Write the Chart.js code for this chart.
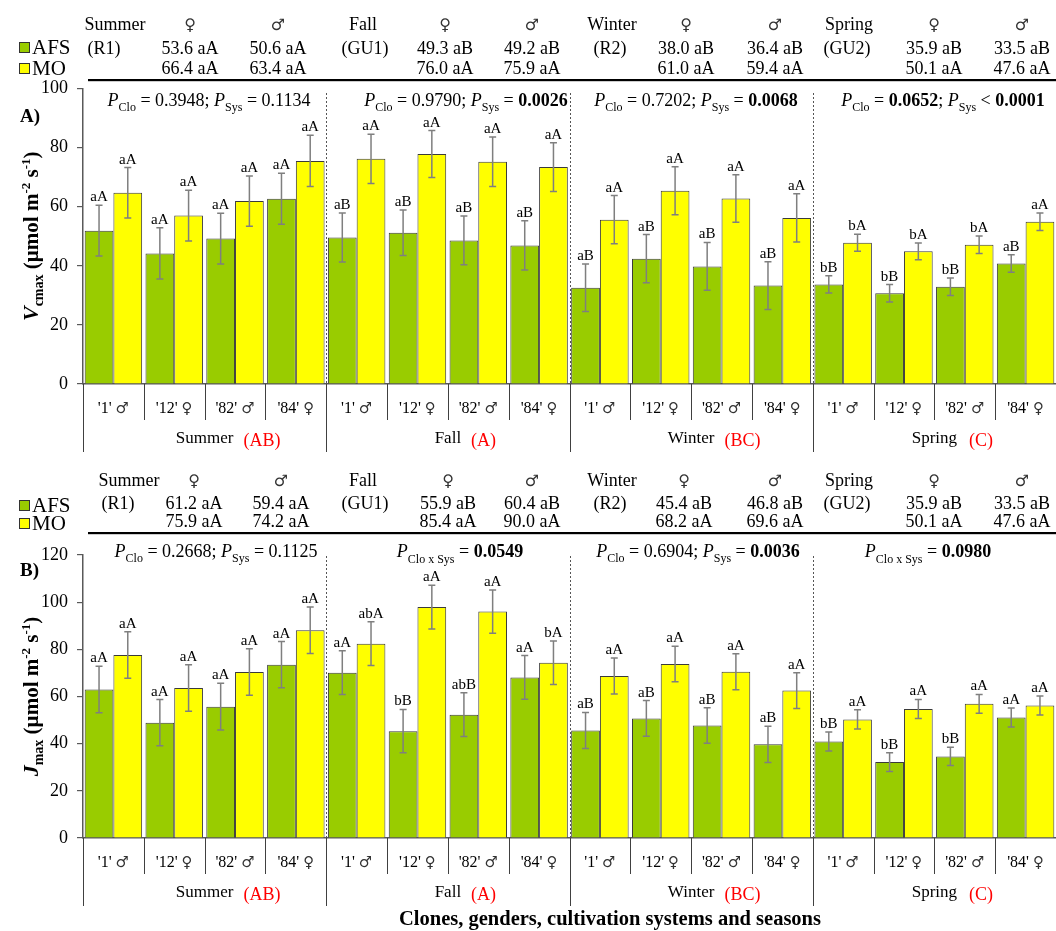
<!DOCTYPE html>
<html><head><meta charset="utf-8">
<script src="https://cdn.jsdelivr.net/npm/chart.js@4.4.1/dist/chart.umd.min.js"></script>
<style>
html,body{margin:0;padding:0;background:#fff;}
#wrap{position:relative;width:1056px;height:931px;overflow:hidden;}
canvas{position:absolute;left:0;}
</style></head><body>
<div id="wrap">
<canvas id="cA" width="1056" height="460" style="top:0;width:1056px;height:460px"></canvas>
<canvas id="cB" width="1056" height="471" style="top:460px;width:1056px;height:471px"></canvas>
</div>
<script>
// ---------------- DATA ----------------
const categories = ["'1' ♂","'12' ♀","'82' ♂","'84' ♀","'1' ♂","'12' ♀","'82' ♂","'84' ♀","'1' ♂","'12' ♀","'82' ♂","'84' ♀","'1' ♂","'12' ♀","'82' ♂","'84' ♀"];
const seasonNames = ['Summer','Fall','Winter','Spring'];
const seasonCodes = ['(R1)','(GU1)','(R2)','(GU2)'];
const seasonTukey = ['(AB)','(A)','(BC)','(C)'];

// Panel A: Vcmax
const vcmaxAFS = [51.9,44.2,49.2,62.7, 49.6,51.2,48.6,46.9, 32.6,42.4,39.8,33.3, 33.7,30.7,32.9,40.8];
const vcmaxMO  = [64.7,57.0,61.9,75.5, 76.2,77.8,75.2,73.4, 55.6,65.4,62.8,56.2, 47.8,44.9,47.1,54.9];
const vcmaxAFSerr = [8.6,8.65,8.55,8.65, 8.3,7.7,8.25,8.35, 8.05,8.15,8.1,8.05, 2.9,2.95,2.95,2.95];
const vcmaxMOerr  = [8.55,8.6,8.5,8.65, 8.35,7.95,8.4,8.25, 8.15,8.1,8.05,8.15, 2.85,2.85,2.95,2.95];
const vcmaxAFSletters = ['aA','aA','aA','aA','aB','aB','aB','aB','aB','aB','aB','aB','bB','bB','bB','aB'];
const vcmaxMOletters  = ['aA','aA','aA','aA','aA','aA','aA','aA','aA','aA','aA','aA','bA','bA','bA','aA'];
const vcmaxTicks = [0,20,40,60,80,100];
const vcmaxHeadAFSfem  = ['53.6 aA','49.3 aB','38.0 aB','35.9 aB'];
const vcmaxHeadAFSmale = ['50.6 aA','49.2 aB','36.4 aB','33.5 aB'];
const vcmaxHeadMOfem   = ['66.4 aA','76.0 aA','61.0 aA','50.1 aA'];
const vcmaxHeadMOmale  = ['63.4 aA','75.9 aA','59.4 aA','47.6 aA'];
const vcmaxPclo = ['0.3948','0.9790','0.7202','0.0652'];
const vcmaxPsys = ['0.1134','0.0026','0.0068','0.0001'];
const vcmaxPcloBold = [false,false,false,true];
const vcmaxPsysBold = [false,true,true,true];
const vcmaxPsysOp = ['=','=','=','<'];

// Panel B: Jmax
const jmaxAFS = [63.0,48.9,55.7,73.5, 70.1,45.3,52.3,68.1, 45.6,50.7,47.7,39.7, 40.9,32.2,34.6,51.1];
const jmaxMO  = [77.6,63.6,70.4,88.1, 82.4,97.9,96.0,74.3, 68.7,73.8,70.5,62.5, 50.3,54.7,56.9,56.2];
const jmaxAFSerr = [9.85,9.8,9.9,9.8, 9.3,9.2,9.25,9.25, 7.65,7.6,7.55,7.65, 4.0,3.95,3.85,4.0];
const jmaxMOerr  = [9.85,9.85,9.9,9.85, 9.25,9.25,9.2,9.2, 7.65,7.55,7.6,7.6, 4.05,4.05,3.95,4.05];
const jmaxAFSletters = ['aA','aA','aA','aA','aA','bB','abB','aA','aB','aB','aB','aB','bB','bB','bB','aA'];
const jmaxMOletters  = ['aA','aA','aA','aA','abA','aA','aA','bA','aA','aA','aA','aA','aA','aA','aA','aA'];
const jmaxTicks = [0,20,40,60,80,100,120];
const jmaxHeadAFSfem  = ['61.2 aA','55.9 aB','45.4 aB','35.9 aB'];
const jmaxHeadAFSmale = ['59.4 aA','60.4 aB','46.8 aB','33.5 aB'];
const jmaxHeadMOfem   = ['75.9 aA','85.4 aA','68.2 aA','50.1 aA'];
const jmaxHeadMOmale  = ['74.2 aA','90.0 aA','69.6 aA','47.6 aA'];
const jmaxPclo = ['0.2668',null,'0.6904',null];
const jmaxPsys = ['0.1125',null,'0.0036',null];
const jmaxPint = [null,'0.0549',null,'0.0980'];
const jmaxPcloBold = [false,false,false,false];
const jmaxPsysBold = [false,false,true,false];

// ---------------- DRAWING HELPERS ----------------
const FAM = "'Liberation Serif','Times New Roman',serif";
const SYM = "'DejaVu Sans','Noto Sans',sans-serif";
function fnt(s,b,i,f){return (i?'italic ':'')+(b?'bold ':'')+s+'px '+(f||FAM);}
function runs(ctx,list,x,y,align){
  let w=0;
  list.forEach(r=>{ctx.font=fnt(r.s,r.b,r.i,r.f);r.w=ctx.measureText(r.t).width;w+=r.w;});
  let cx = align==='left'?x:(align==='right'?x-w:x-w/2);
  ctx.textAlign='left';ctx.textBaseline='alphabetic';
  list.forEach(r=>{ctx.font=fnt(r.s,r.b,r.i,r.f);ctx.fillStyle=r.c||'#000';ctx.fillText(r.t,cx,y+(r.dy||0));cx+=r.w;});
  return w;
}
function txt(ctx,t,x,y,s,align,b,i,c){runs(ctx,[{t:t,s:s,b:b,i:i,c:c}],x,y,align);}
function sym(ctx,t,x,y,s){runs(ctx,[{t:t,s:s,f:SYM,c:'#333'}],x,y,'center');}

function pRuns(clo,sys,cloB,sysB,op,intv){
  const S=18, sub=12;
  if(intv){
    return [{t:'P',s:S,i:true},{t:'Clo x Sys',s:sub,dy:6},{t:' = ',s:S},{t:intv,s:S,b:true}];
  }
  return [{t:'P',s:S,i:true},{t:'Clo',s:sub,dy:5},{t:' = ',s:S},{t:clo,s:S,b:cloB},{t:'; ',s:S},
          {t:'P',s:S,i:true},{t:'Sys',s:sub,dy:5},{t:' '+op+' ',s:S},{t:sys,s:S,b:sysB}];
}

function makePlugin(P){
  return {
    id:'panel'+P.name,
    afterDraw(chart){
      const ctx=chart.ctx, oy=P.offY, xs=chart.scales.x, ys=chart.scales.y, ca=chart.chartArea;
      ctx.save();
      // header table
      for(let k=0;k<4;k++){
        txt(ctx,seasonNames[k],P.hx.name[k],P.rowY[0]-oy,18,'center');
        txt(ctx,seasonCodes[k],P.hx.code[k],P.rowY[1]-oy,18,'center');
        sym(ctx,'♀',P.hx.fem[k],P.rowY[0]-oy,16);
        sym(ctx,'♂',P.hx.male[k],P.rowY[0]-oy,16);
        txt(ctx,P.head[0][k],P.hx.fem[k],P.rowY[1]-oy,18,'center');
        txt(ctx,P.head[1][k],P.hx.male[k],P.rowY[1]-oy,18,'center');
        txt(ctx,P.head[2][k],P.hx.fem[k],P.rowY[2]-oy,18,'center');
        txt(ctx,P.head[3][k],P.hx.male[k],P.rowY[2]-oy,18,'center');
      }
      ctx.fillStyle='#000';
      ctx.fillRect(P.lineX0,P.lineY-oy-1,1056-P.lineX0,2.2);
      // legend
      const sw=[['#99CC00','AFS'],['#FFFF00','MO']];
      sw.forEach((s,k)=>{
        const y=P.legY[k]-oy;
        ctx.fillStyle=s[0];ctx.fillRect(19,y,11,11);
        ctx.strokeStyle='#333';ctx.lineWidth=1;ctx.strokeRect(19.5,y+0.5,10,10);
        txt(ctx,s[1],32,y+11.5,21,'left');
      });
      // P text
      for(let k=0;k<4;k++){
        runs(ctx,pRuns(P.pclo[k],P.psys[k],P.pcloB[k],P.psysB[k],P.pop[k],P.pint[k]),P.pX[k],P.pY-oy,'center');
      }
      // panel letter
      txt(ctx,P.name+')',20,P.letY-oy,19,'left',true);
      // y title
      ctx.save();
      ctx.translate(P.ytX,(ca.top+ca.bottom)/2+P.ytDy);
      ctx.rotate(-Math.PI/2);
      runs(ctx,P.ytitle,0,0,'center');
      ctx.restore();
      // dashed separators
      ctx.strokeStyle='#555';ctx.lineWidth=1;ctx.setLineDash([2,2]);
      [3.5,7.5,11.5].forEach(v=>{
        const x=Math.round(xs.getPixelForValue(v))+0.5;
        ctx.beginPath();ctx.moveTo(x,P.dashTop-oy);ctx.lineTo(x,ca.bottom);ctx.stroke();
      });
      ctx.setLineDash([]);
      // error bars & letters
      [0,1].forEach(di=>{
        const meta=chart.getDatasetMeta(di);
        const vals=chart.data.datasets[di].data, errs=P.err[di], lets=P.lets[di];
        meta.data.forEach((bar,j)=>{
          const x=bar.x, yT=ys.getPixelForValue(vals[j]+errs[j]), yB=ys.getPixelForValue(vals[j]-errs[j]);
          ctx.strokeStyle='#7f7f7f';ctx.lineWidth=1.5;
          ctx.beginPath();
          ctx.moveTo(x,yT);ctx.lineTo(x,yB);
          ctx.moveTo(x-3.5,yT);ctx.lineTo(x+3.5,yT);
          ctx.moveTo(x-3.5,yB);ctx.lineTo(x+3.5,yB);
          ctx.stroke();
          txt(ctx,lets[j],x,yT-4,15,'center');
        });
      });
      // below-axis labels & separators
      ctx.strokeStyle='#404040';ctx.lineWidth=1;
      for(let i=-1;i<15;i++){
        const x=Math.round(xs.getPixelForValue(i+0.5))+0.5;
        const long=((i+1)%4===0);
        ctx.beginPath();ctx.moveTo(x,ca.bottom);ctx.lineTo(x,(long?P.sepLong:P.sepShort)-oy);ctx.stroke();
      }
      categories.forEach((c,j)=>{
        const sp=c.lastIndexOf(' ');
        runs(ctx,[{t:c.slice(0,sp+1),s:16},{t:c.slice(sp+1),s:15,f:SYM,c:'#333'}],xs.getPixelForValue(j),P.catY-oy,'center');
      });
      for(let k=0;k<4;k++){
        const cx=xs.getPixelForValue(4*k+1.5);
        ctx.font=fnt(17);
        const w=ctx.measureText(seasonNames[k]).width;
        txt(ctx,seasonNames[k],cx,P.grpY-oy,17,'center');
        txt(ctx,seasonTukey[k],cx+w/2+P.redGap[k],P.grpY-oy+3,18,'left',false,false,'#FF0000');
      }
      if(P.xtitle){
        txt(ctx,P.xtitle,610,P.xtY-oy,20.5,'center',true);
      }
      ctx.restore();
    }
  };
}

function build(id,P){
  const ctx=document.getElementById(id).getContext('2d');
  return new Chart(ctx,{
    type:'bar',
    data:{labels:categories,datasets:[
      {label:'AFS',data:P.afs,backgroundColor:'#99CC00',borderColor:'#3a3a3a',borderWidth:1,categoryPercentage:0.945,barPercentage:1},
      {label:'MO',data:P.mo,backgroundColor:'#FFFF00',borderColor:'#3a3a3a',borderWidth:1,categoryPercentage:0.945,barPercentage:1}
    ]},
    options:{
      responsive:false,animation:false,devicePixelRatio:1,
      layout:{padding:{left:0,right:0,top:P.top,bottom:0}},
      plugins:{legend:{display:false},tooltip:{enabled:false},title:{display:false}},
      scales:{
        x:{ticks:{display:false},grid:{display:false,drawTicks:false},border:{display:true,color:'#595959',width:1.5},
           afterFit:s=>{s.height=P.xH;}},
        y:{min:0,max:P.ticks[P.ticks.length-1],
           afterBuildTicks:s=>{s.ticks=P.ticks.map(v=>({value:v}));},
           ticks:{font:{family:FAM,size:18},color:'#000',padding:9},
           grid:{drawOnChartArea:false,drawTicks:true,tickLength:6,color:'#595959',lineWidth:1.2},
           border:{display:true,color:'#595959',width:1.5},
           afterFit:s=>{s.width=83;}}
      }
    },
    plugins:[makePlugin(P)]
  });
}

build('cA',{
  name:'A',offY:0,top:88.5,xH:76,ticks:vcmaxTicks,
  afs:vcmaxAFS,mo:vcmaxMO,err:[vcmaxAFSerr,vcmaxMOerr],lets:[vcmaxAFSletters,vcmaxMOletters],
  head:[vcmaxHeadAFSfem,vcmaxHeadAFSmale,vcmaxHeadMOfem,vcmaxHeadMOmale],
  hx:{name:[115,363,612,849],code:[104,365,610,847],fem:[190,445,686,934],male:[278,532,775,1022]},
  rowY:[30,54,74],lineY:80,lineX0:88,legY:[42,63],
  pclo:vcmaxPclo,psys:vcmaxPsys,pcloB:vcmaxPcloBold,psysB:vcmaxPsysBold,pop:vcmaxPsysOp,pint:[null,null,null,null],
  pX:[209,466,696,943],pY:106,letY:122,
  ytX:38,ytDy:0,
  ytitle:[{t:'V',s:22,b:true,i:true},{t:'cmax',s:14,b:true,dy:5},{t:' (µmol m',s:21,b:true},{t:'-2',s:13,b:true,dy:-8},{t:' s',s:21,b:true},{t:'-1',s:13,b:true,dy:-8},{t:')',s:21,b:true}],
  dashTop:93,sepShort:420,sepLong:452,catY:413,grpY:443,redGap:[10,10,10,12]
});

build('cB',{
  name:'B',offY:460,top:95,xH:93,ticks:jmaxTicks,
  afs:jmaxAFS,mo:jmaxMO,err:[jmaxAFSerr,jmaxMOerr],lets:[jmaxAFSletters,jmaxMOletters],
  head:[jmaxHeadAFSfem,jmaxHeadAFSmale,jmaxHeadMOfem,jmaxHeadMOmale],
  hx:{name:[129,363,612,849],code:[118,365,610,847],fem:[194,448,684,934],male:[281,532,775,1022]},
  rowY:[486,509,527],lineY:533,lineX0:88,legY:[500,518],
  pclo:jmaxPclo,psys:jmaxPsys,pcloB:jmaxPcloBold,psysB:jmaxPsysBold,pop:['=','=','=','='],pint:jmaxPint,
  pX:[216,460,698,928],pY:557,letY:576,
  ytX:38,ytDy:0,
  ytitle:[{t:'J',s:22,b:true,i:true},{t:'max',s:14,b:true,dy:5},{t:' (µmol m',s:21,b:true},{t:'-2',s:13,b:true,dy:-8},{t:' s',s:21,b:true},{t:'-1',s:13,b:true,dy:-8},{t:')',s:21,b:true}],
  dashTop:556,sepShort:874,sepLong:906,catY:867,grpY:897,redGap:[10,10,10,12],
  xtitle:'Clones, genders, cultivation systems and seasons',xtY:925
});
</script>
</body></html>
